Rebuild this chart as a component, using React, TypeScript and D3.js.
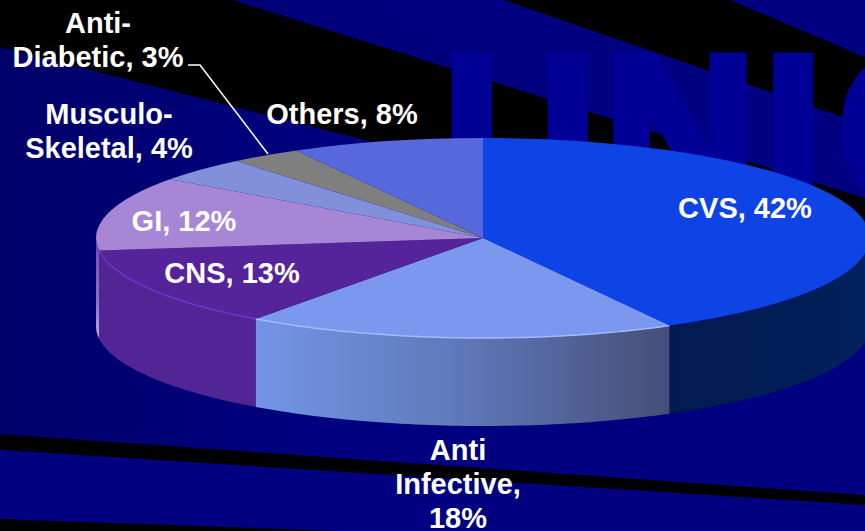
import React from "react";
import * as d3 from "d3";

// Therapy segment shares, clockwise from twelve o'clock
const segments = ["CVS", "Anti Infective", "CNS", "GI", "Musculo-Skeletal", "Anti-Diabetic", "Others"];
const shares = [42, 18, 13, 12, 4, 3, 8];
const topColors = ["url(#cvsTop)", "#7b98ee", "#55249a", "#a786d6", "url(#muscTop)", "#7f7f7f", "#5668dc"];
const sideColors = ["url(#cvsSide)", "url(#antiSide)", "#522594", "url(#giSide)", "#7b88cc", "#7f7f7f", "#5668dc"];
const rimColors = ["none", "#a3baff", "#6a38cc", "none", "none", "none", "none"];

const labelLines = [
  { lines: ["CVS, 42%"], x: 745, y: 218 },
  { lines: ["Anti", "Infective,", "18%"], x: 458, y: 460 },
  { lines: ["CNS, 13%"], x: 232, y: 283 },
  { lines: ["GI, 12%"], x: 184, y: 231 },
  { lines: ["Musculo-", "Skeletal, 4%"], x: 109, y: 124 },
  { lines: ["Anti-", "Diabetic, 3%"], x: 98, y: 33 },
  { lines: ["Others, 8%"], x: 342, y: 124 },
];

const watermark = ["U", "N", "I", "C"];
const watermarkX = [444, 604, 764, 838];

const cx = 483;
const cy = 238;
const rx = 387;
const ry = 100;
const depth = 88;

const pieAngles = d3.pie<number>().sort(null).startAngle(0).endAngle(2 * Math.PI)(shares);
const wedge = d3.arc<d3.PieArcDatum<number>>().innerRadius(0).outerRadius(1);

const px = (a: number) => cx + rx * Math.sin(a);
const py = (a: number) => cy - ry * Math.cos(a);

// Angles along the front half of the ellipse covered by a wedge, if any
function frontSamples(start: number, end: number): number[] | null {
  const a0 = Math.max(start, Math.PI / 2);
  const a1 = Math.min(end, (3 * Math.PI) / 2);
  if (a1 <= a0) return null;
  return d3.range(0, 61).map((i) => a0 + ((a1 - a0) * i) / 60);
}

// Visible outer wall of a wedge
function wallPath(start: number, end: number): string | null {
  const samples = frontSamples(start, end);
  if (!samples) return null;
  const upper = samples.map((a) => [px(a), py(a)] as [number, number]);
  const lower = samples.slice().reverse().map((a) => [px(a), py(a) + depth] as [number, number]);
  return d3.line()([...upper, ...lower]) + "Z";
}

// Highlighted lip where the top face meets the wall
function rimPath(start: number, end: number): string | null {
  const samples = frontSamples(start, end);
  if (!samples) return null;
  return d3.line()(samples.map((a) => [px(a), py(a)] as [number, number]));
}

export default function App() {
  return (
    <svg
      width={865}
      height={531}
      viewBox="0 0 865 531"
      style={{ position: "absolute", left: 0, top: 0, display: "block" }}
    >
      <defs>
        <linearGradient id="cvsTop" gradientUnits="userSpaceOnUse" x1={0} y1={137} x2={0} y2={340}>
          <stop offset="0" stopColor="#0e44e6" />
          <stop offset="0.5" stopColor="#0d40dc" />
          <stop offset="1" stopColor="#0a32ae" />
        </linearGradient>
        <linearGradient id="muscTop" gradientUnits="userSpaceOnUse" x1={0} y1={160} x2={0} y2={238}>
          <stop offset="0" stopColor="#8290dc" />
          <stop offset="1" stopColor="#6f7cba" />
        </linearGradient>
        <linearGradient id="cvsSide" gradientUnits="userSpaceOnUse" x1={671} y1={0} x2={870} y2={0}>
          <stop offset="0" stopColor="#021a50" />
          <stop offset="0.7" stopColor="#021d56" />
          <stop offset="1" stopColor="#03225f" />
        </linearGradient>
        <linearGradient id="antiSide" gradientUnits="userSpaceOnUse" x1={255} y1={0} x2={671} y2={0}>
          <stop offset="0" stopColor="#7494e6" />
          <stop offset="0.5" stopColor="#5f78b8" />
          <stop offset="1" stopColor="#444e78" />
        </linearGradient>
        <linearGradient id="giSide" gradientUnits="userSpaceOnUse" x1={0} y1={250} x2={0} y2={335}>
          <stop offset="0" stopColor="#7452b8" />
          <stop offset="0.6" stopColor="#8a70c4" />
          <stop offset="1" stopColor="#b9a4dc" />
        </linearGradient>
        <linearGradient id="leftField" gradientUnits="userSpaceOnUse" x1={0} y1={0} x2={320} y2={0}>
          <stop offset="0" stopColor="#00006a" />
          <stop offset="1" stopColor="#000080" />
        </linearGradient>
        <linearGradient id="upperBand" gradientUnits="userSpaceOnUse" x1={420} y1={0} x2={330} y2={140}>
          <stop offset="0" stopColor="#000080" />
          <stop offset="0.45" stopColor="#00007a" />
          <stop offset="1" stopColor="#000068" />
        </linearGradient>
      </defs>

      {/* Slide background: navy field crossed by black bands */}
      <rect width={865} height={531} fill="#000080" />
      <polygon points="0,47 865,268 865,495 0,434" fill="url(#leftField)" />
      <polygon points="0,0 233,0 865,198 865,268 0,47" fill="#000" />
      <polygon points="503,0 730,0 865,57 865,125" fill="#000" />
      <polygon points="233,0 503,0 865,125 865,198" fill="url(#upperBand)" />
      <polygon points="0,434 865,495 865,505 0,450" fill="#000" />
      <polygon points="0,519 342,531 0,531" fill="#000" />

      {/* Oversized watermark lettering behind the pie, thickened to extra-bold */}
      <g
        fontFamily="'Liberation Sans', Arial, sans-serif"
        fontWeight={700}
        fontSize={210}
        fill="#000096"
        stroke="#000096"
        strokeWidth={10}
        strokeLinejoin="miter"
      >
        {watermark.map((ch, i) => (
          <text key={ch} x={watermarkX[i]} y={202}>
            {ch}
          </text>
        ))}
      </g>

      {/* Outer wall of the disc */}
      {pieAngles.map((d, i) => {
        const p = wallPath(d.startAngle, d.endAngle);
        return p ? <path key={segments[i]} d={p} fill={sideColors[i]} /> : null;
      })}

      {/* Top face, a unit-circle pie stretched into an ellipse */}
      <g transform={`translate(${cx},${cy}) scale(${rx},${ry})`}>
        {pieAngles.map((d, i) => (
          <path key={segments[i]} d={wedge(d) ?? ""} fill={topColors[i]} />
        ))}
      </g>

      {pieAngles.map((d, i) => {
        const p = rimPath(d.startAngle, d.endAngle);
        return p && rimColors[i] !== "none" ? (
          <path key={segments[i]} d={p} fill="none" stroke={rimColors[i]} strokeWidth={1.5} />
        ) : null;
      })}

      {/* Leader from the Anti-Diabetic label to its wedge */}
      <polyline points="188,65 200,65 268,154" fill="none" stroke="#fff" strokeWidth={1.5} />

      <g
        fontFamily="'Liberation Sans', Arial, sans-serif"
        fontWeight={700}
        fontSize={29}
        fill="#fff"
        textAnchor="middle"
      >
        {labelLines.map((l) => (
          <text key={l.lines[0]} x={l.x} y={l.y}>
            {l.lines.map((t, j) => (
              <tspan key={t} x={l.x} dy={j === 0 ? 0 : 34}>
                {t}
              </tspan>
            ))}
          </text>
        ))}
      </g>
    </svg>
  );
}
